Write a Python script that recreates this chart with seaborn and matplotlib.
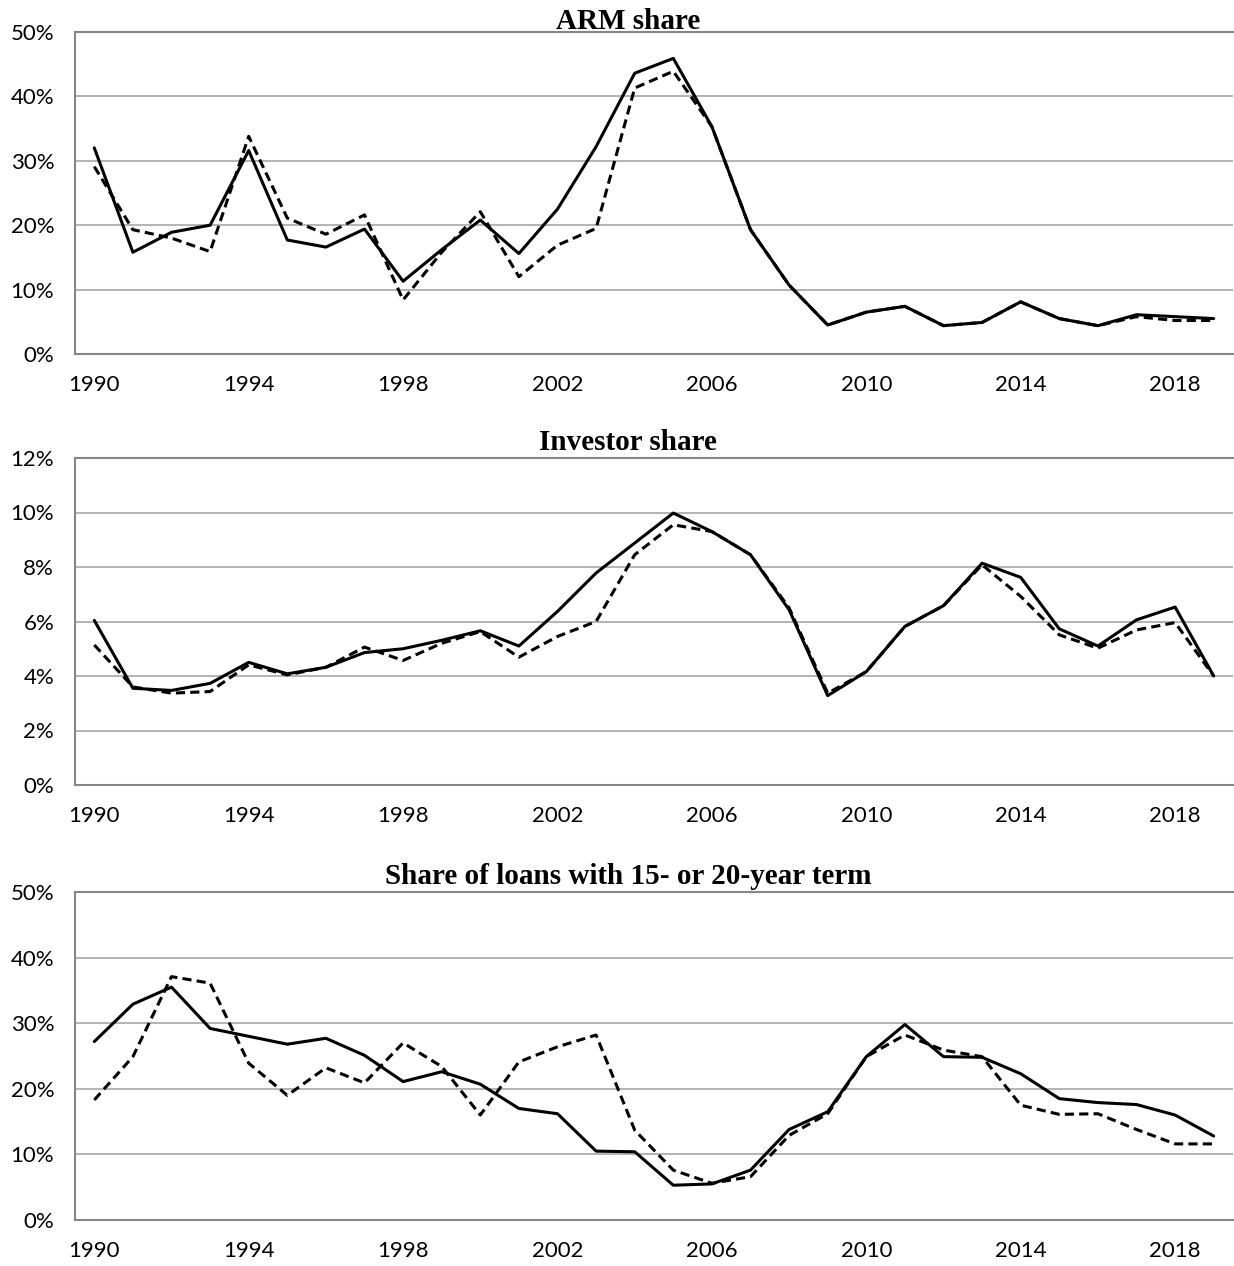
import numpy as np
import pandas as pd
import matplotlib
matplotlib.use("Agg")
import matplotlib.pyplot as plt
import seaborn as sns

years = list(range(1990, 2020))

arm_solid = [32.0, 15.8, 18.9, 20.0, 31.6, 17.7, 16.6, 19.4, 11.3, 16.2,
             20.8, 15.6, 22.5, 32.2, 43.6, 45.9, 35.3, 19.3, 10.7, 4.5,
             6.5, 7.4, 4.4, 4.9, 8.1, 5.5, 4.4, 6.1, 5.8, 5.5]
arm_dashed = [29.1, 19.3, 18.0, 15.9, 33.8, 21.1, 18.6, 21.6, 8.4, 15.8,
              22.1, 12.0, 16.9, 19.5, 41.3, 43.9, 35.3, 19.3, 10.7, 4.5,
              6.5, 7.4, 4.4, 4.9, 8.1, 5.5, 4.4, 5.8, 5.2, 5.2]

inv_solid = [6.04, 3.55, 3.47, 3.73, 4.50, 4.08, 4.32, 4.86, 5.00, 5.31,
             5.66, 5.10, 6.37, 7.78, 8.88, 9.98, 9.30, 8.45, 6.43, 3.28,
             4.16, 5.82, 6.58, 8.14, 7.62, 5.73, 5.10, 6.06, 6.53, 4.00]
inv_dashed = [5.14, 3.60, 3.37, 3.43, 4.41, 4.04, 4.32, 5.06, 4.57, 5.20,
              5.63, 4.69, 5.45, 6.00, 8.45, 9.55, 9.30, 8.45, 6.50, 3.37,
              4.16, 5.82, 6.58, 8.08, 6.92, 5.51, 5.02, 5.69, 5.96, 4.00]

term_solid = [27.2, 32.9, 35.5, 29.2, 28.0, 26.8, 27.7, 25.1, 21.1, 22.6,
              20.7, 17.0, 16.2, 10.5, 10.4, 5.3, 5.5, 7.6, 13.8, 16.5,
              24.9, 29.8, 24.9, 24.8, 22.3, 18.5, 17.9, 17.6, 16.0, 12.8]
term_dashed = [18.3, 24.9, 37.1, 36.1, 23.9, 19.0, 23.2, 20.9, 27.0, 23.4,
               16.0, 24.1, 26.4, 28.2, 13.7, 7.6, 5.6, 6.6, 12.9, 16.2,
               24.9, 28.2, 25.9, 24.9, 17.5, 16.1, 16.2, 13.8, 11.6, 11.6]

titles = ["ARM share", "Investor share", "Share of loans with 15- or 20-year term"]
series_names = ["Series 1", "Series 2"]

sns.set_style("white")
plt.rcParams['font.family'] = ['Lato', 'DejaVu Sans']

fig = plt.figure(figsize=(12.34, 12.66), dpi=100)

W, H = 1234.0, 1266.0
left_px, right_px = 75.0, 1233.0
rects_px = [(32, 354), (458, 785), (892, 1220)]
title_pads = [2.2, 5.8, 5.8]
ylims = [(50, 10), (12, 2), (50, 10)]
data = [(arm_solid, arm_dashed), (inv_solid, inv_dashed), (term_solid, term_dashed)]

spine_col = "#868686"
grid_col = "#b3b3b3"

for i in range(3):
    top_px, bot_px = rects_px[i]
    ax = fig.add_axes([left_px / W, 1 - bot_px / H, (right_px - left_px) / W, (bot_px - top_px) / H])
    s1, s2 = data[i]
    n = len(years)
    df = pd.DataFrame({
        "idx": list(range(n)) * 2,
        "value": list(s1) + list(s2),
        "series": [series_names[0]] * n + [series_names[1]] * n,
    })
    sns.lineplot(data=df, x="idx", y="value", style="series",
                 dashes={series_names[0]: "", series_names[1]: (3.0, 1.7)},
                 color="black", linewidth=2.2, legend=False, ax=ax,
                 estimator=None)
    ymax, ystep = ylims[i]
    ax.set_ylim(0, ymax)
    ax.set_xlim(-0.5, n - 0.5)
    yt = np.arange(0, ymax + ystep / 2, ystep)
    ax.set_yticks(yt)
    ax.set_yticklabels([f"{int(round(v))}%" for v in yt])
    major = list(range(0, n, 4))
    ax.set_xticks(major)
    ax.set_xticklabels([str(years[k]) for k in major])
    ax.set_xticks(np.arange(0.5, n - 1, 1.0), minor=True)
    ax.tick_params(axis="x", which="major", length=0, pad=15, labelsize=16, colors="black")
    ax.tick_params(axis="x", which="minor", direction="in", length=5, width=1.1, color=spine_col)
    ax.tick_params(axis="y", which="major", length=0, pad=15, labelsize=16, colors="black")
    ax.set_xlabel("")
    ax.set_ylabel("")
    ax.yaxis.grid(True, color=grid_col, linewidth=1.4)
    ax.xaxis.grid(False)
    ax.set_axisbelow(True)
    for side in ["left", "bottom", "top"]:
        ax.spines[side].set_visible(True)
        ax.spines[side].set_color(spine_col)
        ax.spines[side].set_linewidth(1.5)
    ax.spines["right"].set_visible(False)
    ax.set_title(titles[i], x=0.4775, pad=title_pads[i], fontsize=21, color="black",
                 fontweight="bold", family=["Liberation Serif", "DejaVu Serif"])

fig.savefig("out.png", dpi=100)
